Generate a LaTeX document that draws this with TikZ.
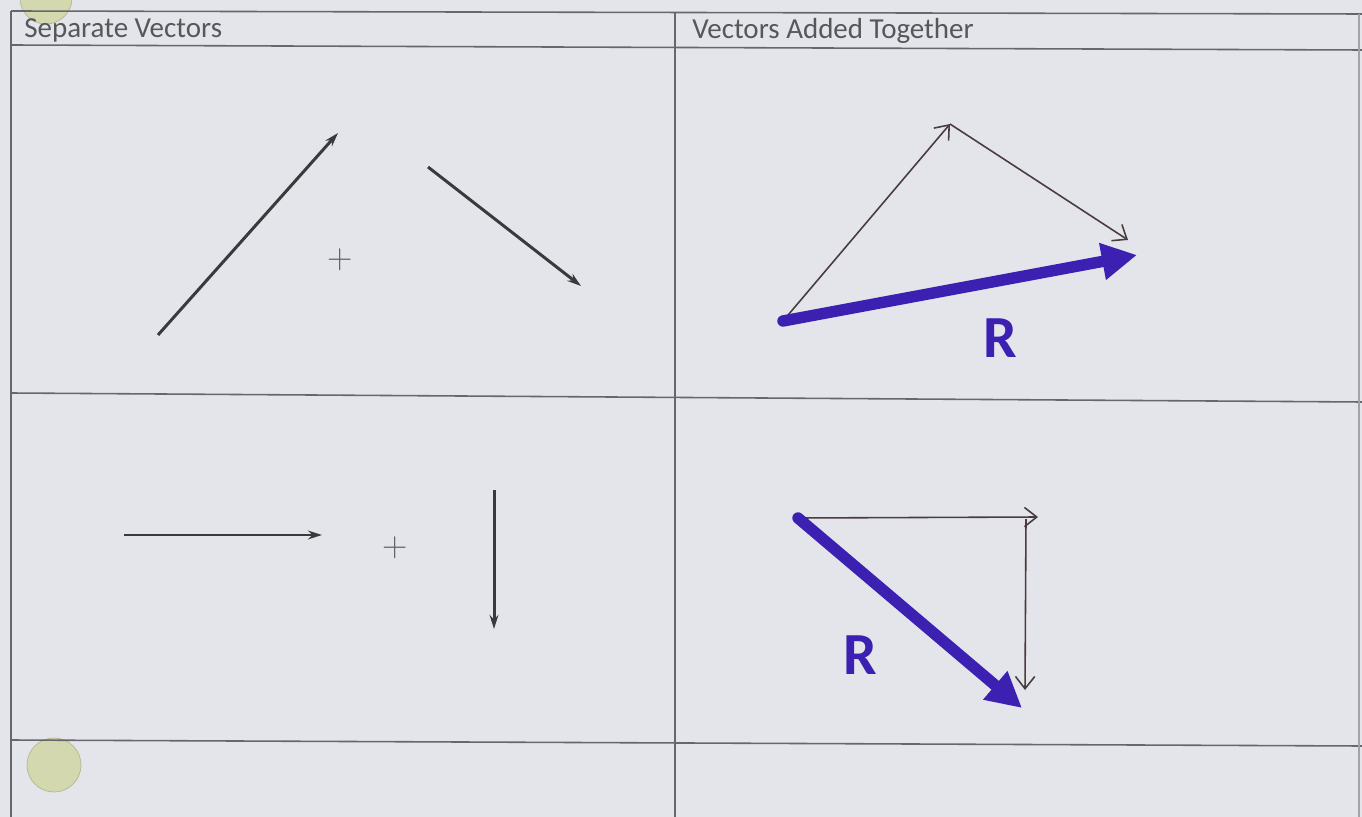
\documentclass[tikz,border=0pt]{standalone}
\usepackage{fontspec}
\setsansfont{Carlito}
\usetikzlibrary{arrows.meta,calc}

\definecolor{paper}{HTML}{E4E5EA}
\definecolor{rule}{HTML}{66666C}
\definecolor{ink}{HTML}{3A3A3C}
\definecolor{pen}{HTML}{4A3C3E}
\definecolor{marker}{HTML}{3B20B2}
\definecolor{punch}{HTML}{D3D8AE}

\begin{document}
\begin{tikzpicture}[
        x=0.02cm, y=-0.02cm,
        gridline/.style={
            draw=rule,
            line width=0.9pt
        },
        header/.style={
            font=\sffamily\fontsize{16.5}{18}\selectfont,
            text=ink!85,
            anchor=west,
            inner sep=0pt
        },
        printed/.style={
            draw=ink,
            line width=1.7pt,
            -{Stealth[length=8pt,width=5pt]}
        },
        plus/.style={
            font=\fontsize{20}{20}\selectfont,
            text=ink!80,
            inner sep=0pt
        },
        thinpen/.style={
            draw=pen,
            line width=0.9pt,
            -{Straight Barb[length=7pt,width=11pt]}
        },
        resultant/.style={
            draw=marker,
            line width=6.5pt,
            line cap=round,
            -{Triangle[length=20pt,width=20pt]}
        },
        rlabel/.style={
            font=\sffamily\bfseries\fontsize{34}{34}\selectfont,
            text=marker,
            inner sep=0pt
        },
        hole/.style={
            fill=punch,
            draw=punch!85!black
        }
    ]

    % Blatt
    \useasboundingbox (0,0) rectangle (1362,817);
    \fill[paper] (0,0) rectangle (1362,817);

    % Lochung
    \path[hole] (46,-2) circle (26);
    \path[hole] (54,765) circle (27);

    % Tabelle
    \draw[gridline] (11,11) -- (1362,14);
    \draw[gridline] (11,45) -- (1362,50);
    \draw[gridline] (11,393) -- (1362,402);
    \draw[gridline] (11,740) -- (1362,746);
    \draw[gridline] (11,11) -- (11,817);
    \draw[gridline] (675,12) -- (675,817);
    \draw[gridline, draw=rule!60] (1359,14) -- (1359,817);

    \node[header] (sephead) at (24,30) {Separate Vectors};
    \node[header] (addhead) at (692,31) {Vectors Added Together};

    % Obere Zeile, links
    \coordinate (a1) at (158,335);
    \coordinate (a2) at (338,133);
    \coordinate (b1) at (428,167);
    \coordinate (b2) at (581,286);
    \draw[printed] (a1) -- (a2);
    \draw[printed] (b1) -- (b2);
    \node[plus] (plusA) at (340,260) {+};

    % Obere Zeile, rechts
    \coordinate (p0) at (783,321);
    \coordinate (p1) at (950,124);
    \coordinate (p2) at (1128,240);
    \coordinate (p3) at (1137,255);
    \draw[thinpen] (p0) -- (p1);
    \draw[thinpen] (p1) -- (p2);
    \draw[resultant] (p0) -- (p3);
    \node[rlabel] (rA) at (1000,338) {R};

    % Untere Zeile, links
    \coordinate (c1) at (124,535);
    \coordinate (c2) at (322,535);
    \coordinate (d1) at (494,490);
    \coordinate (d2) at (494,629);
    \draw[printed] (c1) -- (c2);
    \draw[printed] (d1) -- (d2);
    \node[plus] (plusB) at (395,548) {+};

    % Untere Zeile, rechts
    \coordinate (q0) at (798,518);
    \coordinate (q1) at (1038,517);
    \coordinate (q2) at (1026,519);
    \coordinate (q3) at (1025,690);
    \coordinate (q4) at (1022,708);
    \draw[thinpen] (q0) -- (q1);
    \draw[thinpen] (q2) -- (q3);
    \draw[resultant] (q0) -- (q4);
    \node[rlabel] (rB) at (860,655) {R};

\end{tikzpicture}
\end{document}
